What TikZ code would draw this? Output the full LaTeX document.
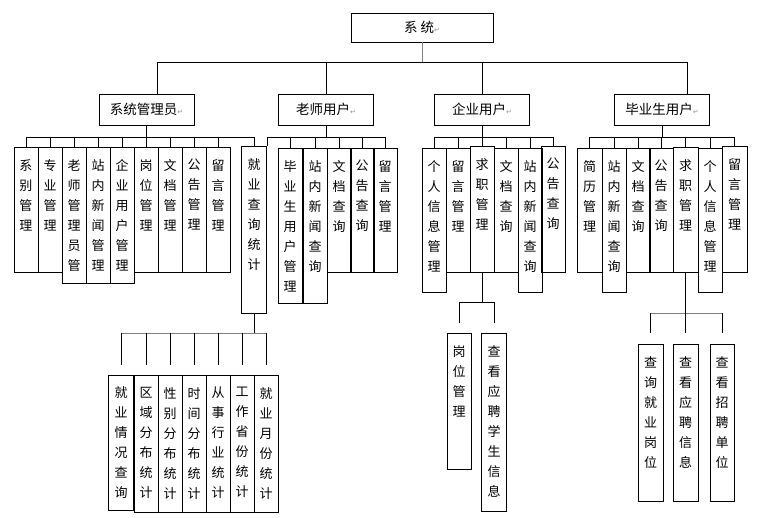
\documentclass[tikz,border=0pt]{standalone}
\usepackage{fontspec}
\usepackage{tikz}
\setmainfont{Noto Sans CJK SC}
\newfontfamily\symfont{DejaVu Sans}
\definecolor{linegray}{RGB}{128,128,128}
\definecolor{markgray}{RGB}{150,150,150}
\newcommand{\pmark}{{\symfont\fontsize{7}{7}\selectfont\color{markgray}↵}}

\tikzset{
  topbox/.style={draw, line width=0.9pt, minimum width=95, minimum height=31, inner sep=0pt, font=\fontsize{13.5}{16}\selectfont},
  leaf/.style={draw, line width=0.9pt, anchor=north, minimum width=24, inner sep=0pt},
  vtext/.style={anchor=north, align=center, inner sep=0pt, yshift=-12, font=\fontsize{13}{20}\selectfont},
  link/.style={line width=0.9pt},
  graylink/.style={line width=0.9pt, linegray},
}

\begin{document}
\begin{tikzpicture}[x=1pt, y=-1pt]
\fill[white] (0,0) rectangle (759,517);
\useasboundingbox (0,0) rectangle (759,517);

% top levels
\node[topbox, minimum width=142, minimum height=29] (root) at (422,27.5) {系\ 统\pmark};
\node[topbox] (admin) at (146.5,109.5) {系统管理员\pmark};
\node[topbox] (teacher) at (326,109.5) {老师用户\pmark};
\node[topbox] (ent) at (482,109.5) {企业用户\pmark};
\node[topbox] (grad) at (662,109.5) {毕业生用户\pmark};

\coordinate (rootbus) at (422,62);
\draw[graylink] (root.south) -- (rootbus);
\draw[link] (admin.north -| 157,0) -- (157,62) -- (687,62) -- (grad.north -| 687,0);
\draw[link] (teacher.north) -- (teacher.north |- rootbus);
\draw[link] (ent.north) -- (ent.north |- rootbus);

% 系统管理员
\node[leaf, minimum height=125, label={[vtext]north:系\\别\\管\\理}] (a1) at (26,147) {};
\node[leaf, minimum height=125, label={[vtext]north:专\\业\\管\\理}] (a2) at (50,147) {};
\node[leaf, minimum height=136, label={[vtext]north:老\\师\\管\\理\\员\\管}] (a3) at (74,147) {};
\node[leaf, minimum height=136, label={[vtext]north:站\\内\\新\\闻\\管\\理}] (a4) at (98,147) {};
\node[leaf, minimum height=136, label={[vtext]north:企\\业\\用\\户\\管\\理}] (a5) at (122,147) {};
\node[leaf, minimum height=125, label={[vtext]north:岗\\位\\管\\理}] (a6) at (146,147) {};
\node[leaf, minimum height=125, label={[vtext]north:文\\档\\管\\理}] (a7) at (170,147) {};
\node[leaf, minimum height=125, label={[vtext]north:公\\告\\管\\理}] (a8) at (194,147) {};
\node[leaf, minimum height=125, label={[vtext]north:留\\言\\管\\理}] (a9) at (218,147) {};
\node[leaf, minimum width=25, minimum height=167, label={[vtext]north:就\\业\\查\\询\\统\\计}] (a10) at (254,146) {};

\coordinate (adminbus) at (admin.south |- 0,137);
\draw[link] (admin.south) -- (adminbus);
\draw[link] (a1.north |- adminbus) -- (a10.north |- adminbus);
\foreach \n in {a1,a2,a3,a4,a5,a6,a7,a8,a9,a10}
  \draw[link] (\n.north |- adminbus) -- (\n.north);

% 就业查询统计
\node[leaf, minimum width=25, minimum height=135, label={[vtext, yshift=1]north:就\\业\\情\\况\\查\\询}] (s1) at (121,375) {};
\node[leaf, minimum height=137, label={[vtext]north:区\\域\\分\\布\\统\\计}] (s2) at (146,375) {};
\node[leaf, minimum height=137, label={[vtext]north:性\\别\\分\\布\\统\\计}] (s3) at (170,375) {};
\node[leaf, minimum height=137, label={[vtext]north:时\\间\\分\\布\\统\\计}] (s4) at (194,375) {};
\node[leaf, minimum height=137, label={[vtext]north:从\\事\\行\\业\\统\\计}] (s5) at (218,375) {};
\node[leaf, minimum height=137, label={[vtext]north:工\\作\\省\\份\\统\\计}] (s6) at (242,375) {};
\node[leaf, minimum height=137, label={[vtext]north:就\\业\\月\\份\\统\\计}] (s7) at (266,375) {};

\coordinate (statbus) at (a10.south |- 0,333);
\draw[link] (a10.south) -- (statbus);
\draw[graylink] (s1.north |- statbus) -- (s7.north |- statbus);
\foreach \n in {s1,s2,s3,s4,s5,s6,s7}
  \draw[link] (\n.north |- statbus) -- ([yshift=10]\n.north);

% 老师用户
\node[leaf, minimum height=155, label={[vtext]north:毕\\业\\生\\用\\户\\管\\理}] (t1) at (290,148) {};
\node[leaf, minimum height=155, label={[vtext]north:站\\内\\新\\闻\\查\\询}] (t2) at (315,148) {};
\node[leaf, minimum height=124, label={[vtext]north:文\\档\\查\\询}] (t3) at (339,148) {};
\node[leaf, minimum height=124, label={[vtext]north:公\\告\\查\\询}] (t4) at (362,148) {};
\node[leaf, minimum height=124, label={[vtext]north:留\\言\\管\\理}] (t5) at (385,148) {};

\coordinate (teacherbus) at (teacher.south |- 0,137);
\draw[link] (teacher.south) -- (teacherbus);
\draw[link] (a10.north east |- teacherbus) -- (t5.north |- teacherbus);
\draw[link] (a10.north east |- teacherbus) -- (a10.north east);
\foreach \n in {t1,t2,t3,t4,t5}
  \draw[link] (\n.north |- teacherbus) -- (\n.north);

% 企业用户
\node[leaf, minimum height=144, label={[vtext]north:个\\人\\信\\息\\管\\理}] (e1) at (434,148) {};
\node[leaf, minimum height=124, label={[vtext]north:留\\言\\管\\理}] (e2) at (458,148) {};
\node[leaf, minimum height=126, label={[vtext]north:求\\职\\管\\理}] (e3) at (482,146) {};
\node[leaf, minimum height=124, label={[vtext]north:文\\档\\查\\询}] (e4) at (506,148) {};
\node[leaf, minimum height=144, label={[vtext]north:站\\内\\新\\闻\\查\\询}] (e5) at (530,148) {};
\node[leaf, minimum height=126, label={[vtext]north:公\\告\\查\\询}] (e6) at (553,146) {};

\coordinate (entbus) at (ent.south |- 0,137);
\draw[link] (ent.south) -- (entbus);
\draw[link] (e1.north |- entbus) -- (e6.north |- entbus);
\foreach \n in {e1,e2,e3,e4,e5,e6}
  \draw[link] (\n.north |- entbus) -- (\n.north);

\node[leaf, minimum height=136, label={[vtext]north:岗\\位\\管\\理}] (ej1) at (459,333) {};
\node[leaf, minimum width=25, minimum height=178, label={[vtext]north:查\\看\\应\\聘\\学\\生\\信\\息}] (ej2) at (494,333) {};

\coordinate (entjobbus) at (e3.south |- 0,302);
\draw[link] (e3.south) -- (entjobbus);
\draw[link] (ej1.north |- entjobbus) -- (ej2.north |- entjobbus);
\foreach \n in {ej1,ej2}
  \draw[link] (\n.north |- entjobbus) -- ([yshift=10]\n.north);

% 毕业生用户
\node[leaf, minimum width=25, minimum height=124, label={[vtext]north:简\\历\\管\\理}] (g1) at (589.5,148) {};
\node[leaf, minimum height=144, label={[vtext]north:站\\内\\新\\闻\\查\\询}] (g2) at (614,148) {};
\node[leaf, minimum height=124, label={[vtext]north:文\\档\\查\\询}] (g3) at (638,148) {};
\node[leaf, minimum height=124, label={[vtext]north:公\\告\\查\\询}] (g4) at (661,148) {};
\node[leaf, minimum width=25, minimum height=125, label={[vtext]north:求\\职\\管\\理}] (g5) at (685.5,147) {};
\node[leaf, minimum height=144, label={[vtext]north:个\\人\\信\\息\\管\\理}] (g6) at (710,148) {};
\node[leaf, minimum width=25, minimum height=126, label={[vtext]north:留\\言\\管\\理}] (g7) at (734.5,146) {};

\coordinate (gradbus) at (grad.south |- 0,137);
\draw[link] (grad.south) -- (gradbus);
\draw[link] (g1.north |- gradbus) -- (g7.north |- gradbus);
\foreach \n in {g1,g2,g3,g4,g5,g6,g7}
  \draw[link] (\n.north |- gradbus) -- (\n.north);

\node[leaf, minimum width=25, minimum height=157, label={[vtext]north:查\\询\\就\\业\\岗\\位}] (gj1) at (650.5,344) {};
\node[leaf, minimum width=25, minimum height=157, label={[vtext]north:查\\看\\应\\聘\\信\\息}] (gj2) at (685.5,344) {};
\node[leaf, minimum height=157, label={[vtext]north:查\\看\\招\\聘\\单\\位}] (gj3) at (722,344) {};

\coordinate (gradjobbus) at (g5.south |- 0,313);
\draw[link] (g5.south) -- (gradjobbus);
\draw[graylink] (gj1.north |- gradjobbus) -- (gj3.north |- gradjobbus);
\foreach \n in {gj1,gj2,gj3}
  \draw[link] (\n.north |- gradjobbus) -- ([yshift=11]\n.north);

\end{tikzpicture}
\end{document}
